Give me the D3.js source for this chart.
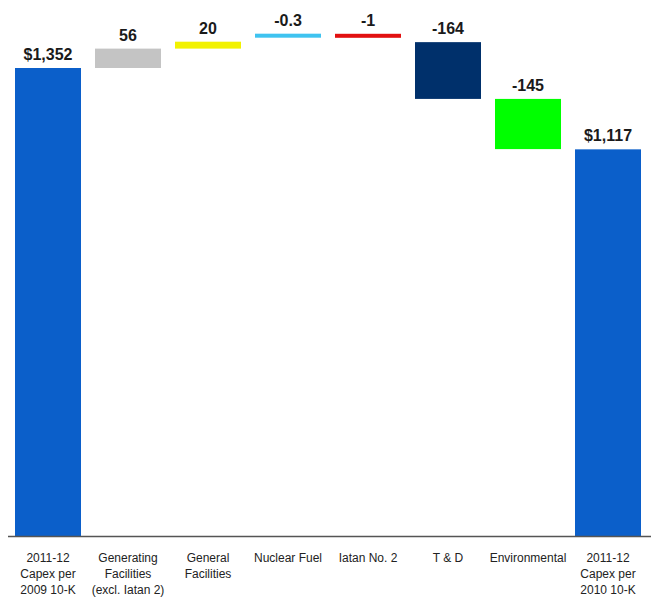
<!DOCTYPE html>
<html>
<head>
<meta charset="utf-8">
<script src="https://cdn.jsdelivr.net/npm/d3@7"></script>
<style>
  body { margin: 0; background: #fff; }
  text { font-family: "Liberation Sans", Arial, sans-serif; }
</style>
</head>
<body>
<svg id="chart" width="654" height="602"></svg>
<script>
// waterfall data
var categories = [
  ["2011-12", "Capex per", "2009 10-K"],
  ["Generating", "Facilities", "(excl. Iatan 2)"],
  ["General", "Facilities"],
  ["Nuclear Fuel"],
  ["Iatan No. 2"],
  ["T & D"],
  ["Environmental"],
  ["2011-12", "Capex per", "2010 10-K"]
];
var values = [1352, 56, 20, -0.3, -1, -164, -145, 1117];
var isTotal = [true, false, false, false, false, false, false, true];
var valueLabels = ["$1,352", "56", "20", "-0.3", "-1", "-164", "-145", "$1,117"];
var colors = ["#0b5fca", "#c4c4c4", "#f2f200", "#3fc3f0", "#e21010", "#00306b", "#00ff00", "#0b5fca"];

var svg = d3.select('#chart');

// build start / end for every step
var running = 0;
var steps = values.map(function(v, i) {
  var s, e;
  if (isTotal[i]) { s = 0; e = v; running = v; }
  else { s = running; e = running + v; running = e; }
  return { i: i, start: s, end: e, label: valueLabels[i], color: colors[i] };
});

var x = d3.scaleBand()
  .domain(d3.range(categories.length))
  .range([8, 648])
  .paddingInner(0.175)
  .paddingOuter(0.0875);

var y = d3.scaleLinear()
  .domain([0, 1352])
  .range([536, 68]);

var minH = 4;

function barTop(d) {
  var h = Math.abs(y(d.start) - y(d.end));
  var top = Math.min(y(d.start), y(d.end));
  // tiny steps get a thin marker lifted a bit, like the original
  return h < minH ? top - 8 : top;
}

var bars = svg.append('g').attr('class', 'bars');
bars.selectAll('rect')
  .data(steps)
  .enter()
  .append('rect')
  .attr('x', function(d) { return x(d.i); })
  .attr('width', x.bandwidth())
  .attr('y', barTop)
  .attr('height', function(d) {
    return Math.max(minH, Math.abs(y(d.start) - y(d.end)));
  })
  .attr('fill', function(d) { return d.color; });

// value labels
bars.selectAll('text.val')
  .data(steps)
  .enter()
  .append('text')
  .classed('val', true)
  .attr('text-anchor', 'middle')
  .attr('x', function(d) { return x(d.i) + x.bandwidth() / 2; })
  .attr('y', function(d) { return barTop(d) - 8; })
  .attr('font-size', '16px')
  .attr('font-weight', 'bold')
  .attr('fill', '#1a1a1a')
  .text(function(d) { return d.label; });

// axis line
svg.append('line')
  .attr('x1', 8).attr('x2', 651)
  .attr('y1', y(0) + 0.5).attr('y2', y(0) + 0.5)
  .attr('stroke', '#555')
  .attr('stroke-width', 1.5);

// category labels
var cat = svg.append('g').attr('class', 'cats');
cat.selectAll('text')
  .data(categories)
  .enter()
  .append('text')
  .attr('text-anchor', 'middle')
  .attr('font-size', '12px')
  .attr('fill', '#222')
  .attr('x', function(d, i) { return x(i) + x.bandwidth() / 2; })
  .attr('y', 562)
  .each(function(d, i) {
    var t = d3.select(this);
    d.forEach(function(line, j) {
      t.append('tspan')
        .attr('x', x(i) + x.bandwidth() / 2)
        .attr('dy', j === 0 ? 0 : 16)
        .text(line);
    });
  });
</script>
</body>
</html>
